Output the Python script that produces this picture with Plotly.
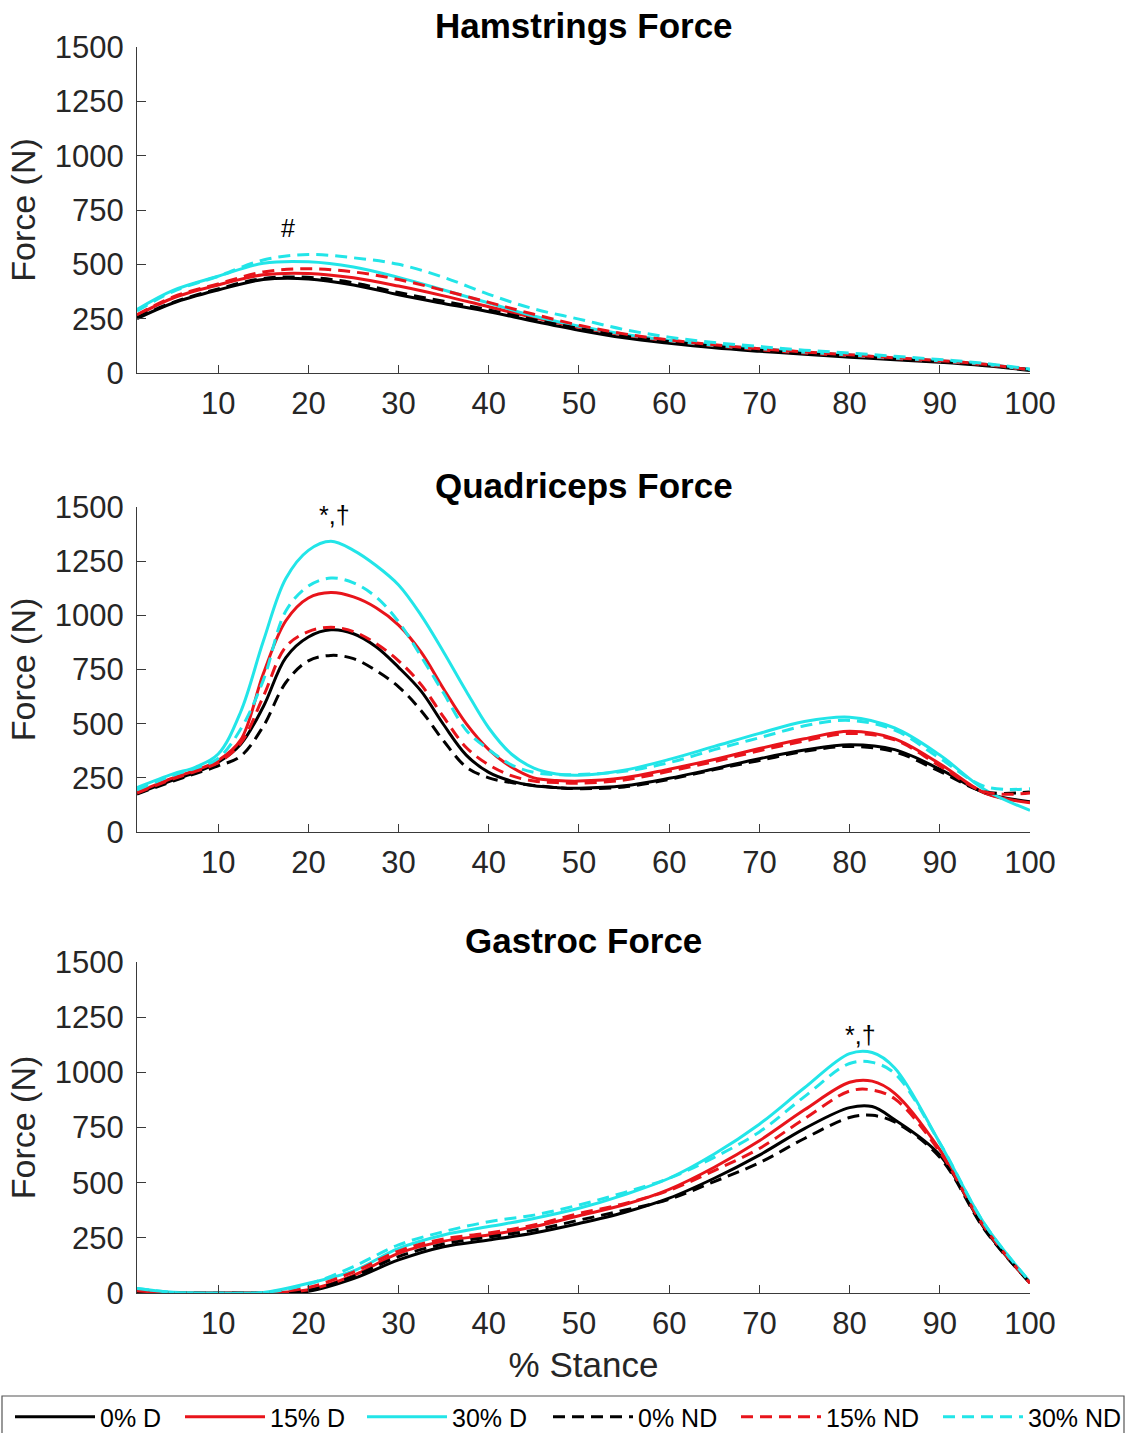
import plotly.graph_objects as go
from plotly.subplots import make_subplots

# ---------------- data ----------------
X_HAM = [1, 5, 10, 15, 20, 25, 30, 35, 40, 45, 50, 55, 60, 65, 70, 75, 80, 85, 90, 95, 100]
HAM_0D = [250, 322, 382, 430, 433, 405, 360, 320, 282, 238, 197, 162, 137, 116, 100, 86, 73, 61, 49, 33, 12]
HAM_15D = [265, 345, 405, 452, 458, 438, 400, 355, 305, 255, 210, 175, 148, 125, 107, 92, 80, 67, 54, 38, 15]
HAM_30D = [292, 380, 445, 505, 512, 488, 440, 382, 322, 262, 215, 178, 150, 128, 112, 96, 83, 69, 56, 40, 15]
HAM_0ND = [255, 325, 387, 435, 440, 415, 370, 330, 290, 245, 205, 170, 145, 123, 105, 90, 78, 65, 52, 37, 15]
HAM_15ND = [268, 350, 410, 465, 480, 465, 430, 380, 325, 270, 220, 180, 152, 130, 112, 97, 84, 70, 57, 40, 15]
HAM_30ND = [285, 375, 445, 520, 545, 530, 500, 440, 362, 295, 248, 200, 165, 140, 122, 105, 92, 77, 62, 44, 18]

X_QUAD = [1, 5, 7.5, 10, 12.5, 15, 17.5, 20, 22.5, 25, 27.5, 30, 32.5, 35, 37.5, 40, 42.5, 45, 47.5, 50,
          55, 60, 65, 70, 75, 80, 85, 90, 95, 100]
QUAD_0D = [178, 240, 275, 322, 405, 578, 805, 900, 933, 915, 855, 760, 650, 495, 355, 275, 235, 213, 205, 202,
           213, 248, 292, 338, 378, 403, 380, 290, 180, 140]
QUAD_15D = [183, 250, 285, 330, 425, 730, 975, 1080, 1105, 1085, 1035, 955, 830, 660, 500, 380, 300, 250, 238, 235,
            250, 290, 335, 385, 430, 465, 430, 315, 180, 135]
QUAD_30D = [205, 268, 300, 360, 555, 880, 1170, 1300, 1342, 1300, 1230, 1140, 1000, 830, 650, 480, 360, 295, 268, 262,
            285, 335, 395, 455, 510, 530, 480, 355, 195, 100]
QUAD_0ND = [175, 235, 270, 305, 350, 488, 690, 790, 815, 800, 745, 670, 560, 420, 300, 250, 228, 215, 205, 200,
            208, 243, 288, 330, 372, 395, 370, 280, 185, 185]
QUAD_15ND = [180, 245, 280, 320, 410, 625, 855, 925, 945, 925, 870, 790, 680, 530, 390, 310, 260, 235, 228, 225,
             240, 280, 325, 375, 420, 455, 425, 305, 185, 180]
QUAD_30ND = [195, 262, 295, 340, 475, 700, 1020, 1135, 1172, 1150, 1085, 970, 810, 640, 470, 380, 310, 275, 265, 265,
             280, 320, 380, 435, 490, 515, 470, 340, 210, 200]

X_GAS = [1, 5, 10, 15, 20, 25, 30, 35, 40, 45, 50, 55, 60, 65, 70, 75, 80, 82.5, 85, 90, 95, 100]
GAS_0D = [5, 0, 0, 0, 8, 65, 150, 210, 240, 272, 315, 365, 430, 520, 625, 745, 840, 845, 785, 625, 290, 45]
GAS_15D = [10, 0, 0, 0, 15, 80, 180, 235, 263, 300, 350, 400, 470, 570, 690, 830, 955, 960, 905, 650, 300, 45]
GAS_30D = [20, 3, 0, 2, 44, 100, 202, 263, 301, 338, 384, 445, 520, 630, 765, 930, 1085, 1090, 1020, 680, 310, 50]
GAS_0ND = [5, 0, 0, 0, 12, 75, 165, 222, 253, 285, 330, 375, 425, 505, 590, 700, 795, 805, 775, 615, 285, 45]
GAS_15ND = [10, 0, 0, 0, 25, 95, 190, 245, 272, 308, 360, 405, 465, 555, 655, 790, 915, 920, 880, 640, 295, 45]
GAS_30ND = [20, 3, 0, 2, 40, 120, 218, 278, 323, 353, 399, 455, 520, 615, 730, 890, 1040, 1045, 995, 680, 310, 50]

SERIES_NAMES = ["0% D", "15% D", "30% D", "0% ND", "15% ND", "30% ND"]
PANEL_TITLES = ["Hamstrings Force", "Quadriceps Force", "Gastroc Force"]
Y_TICKS = [0, 250, 500, 750, 1000, 1250, 1500]
X_TICKS = [10, 20, 30, 40, 50, 60, 70, 80, 90, 100]
MARKS = [("#", 17.7, 667, 1), ("*,†", 22.9, 1463, 2), ("*,†", 81.2, 1169, 3)]

# ---------------- styling ----------------
COLORS = ["#000000", "#e8141b", "#22e5e8"]
FONT = "Liberation Sans, Arial, Helvetica, sans-serif"
AX = "#3a3a3a"
LEGEND_W = [75, 87, 90, 93, 107, 100]   # per-entry legend widths (px)

panels = [
    (X_HAM, [HAM_0D, HAM_15D, HAM_30D, HAM_0ND, HAM_15ND, HAM_30ND]),
    (X_QUAD, [QUAD_0D, QUAD_15D, QUAD_30D, QUAD_0ND, QUAD_15ND, QUAD_30ND]),
    (X_GAS, [GAS_0D, GAS_15D, GAS_30D, GAS_0ND, GAS_15ND, GAS_30ND]),
]

H = 1433
W = 1126
ML, MR, MB = 137, 96, 42
GH = H - MB          # plot-area (paper) height in px
GW = W - ML - MR     # paper width in px


def fy(px):
    return (GH - px) / GH


def fx(px):
    return (px - ML) / GW


fig = make_subplots(rows=3, cols=1)

for r, (xs, ys_list) in enumerate(panels, start=1):
    for i, ys in enumerate(ys_list):
        dashed = i >= 3
        fig.add_trace(go.Scatter(
            x=xs, y=ys, mode="lines", name=SERIES_NAMES[i],
            line=dict(color=COLORS[i % 3], width=3, shape="spline", smoothing=1.0,
                      dash="12px,7px" if dashed else "solid"),
            showlegend=(r == 1), legendrank=i,
            legend="legend" if i < 3 else "legend2",
            legendwidth=LEGEND_W[i],
        ), row=r, col=1)

# plot area pixel positions (top, bottom)
areas = [(47, 373), (507, 832), (962, 1293)]
for r, (top, bot) in enumerate(areas, start=1):
    xa = "xaxis" if r == 1 else f"xaxis{r}"
    ya = "yaxis" if r == 1 else f"yaxis{r}"
    fig.layout[ya].update(
        domain=[fy(bot), fy(top)], range=[0, 1500],
        tickvals=Y_TICKS, ticks="inside", ticklen=9, tickcolor=AX,
        showline=True, linecolor=AX, linewidth=1, showgrid=False, zeroline=False,
        tickfont=dict(size=31, color="#262626", family=FONT),
        ticklabelstandoff=6,
        title=dict(text="Force (N)", font=dict(size=34, color="#262626", family=FONT), standoff=8),
    )
    fig.layout[xa].update(
        range=[1, 100], tickvals=X_TICKS, ticks="inside", ticklen=8, tickcolor=AX,
        showline=True, linecolor=AX, linewidth=1, showgrid=False, zeroline=False,
        tickfont=dict(size=31, color="#262626", family=FONT),
        ticklabelstandoff=3,
    )
    fig.add_annotation(
        text="<b>" + PANEL_TITLES[r - 1] + "</b>", xref=f"x{'' if r == 1 else r} domain",
        yref=f"y{'' if r == 1 else r} domain", x=0.5, y=1, yanchor="bottom", xanchor="center",
        showarrow=False, yshift=0, font=dict(size=35, color="#000000", family=FONT),
    )

fig.layout["xaxis3"].update(title=dict(text="% Stance", font=dict(size=35, color="#262626", family=FONT), standoff=12))

for txt, mx, my, r in MARKS:
    fig.add_annotation(text=txt, x=mx, y=my, xref=f"x{'' if r == 1 else r}", yref=f"y{'' if r == 1 else r}",
                       showarrow=False, font=dict(size=25, color="#000000", family=FONT))

# legend box
fig.add_shape(type="rect", xref="paper", yref="paper",
              x0=fx(2), x1=fx(1124), y0=fy(1445), y1=fy(1396),
              line=dict(color="#555555", width=1.2), fillcolor="rgba(0,0,0,0)", layer="above")

legend_common = dict(
    orientation="h", xanchor="left", yanchor="top",
    borderwidth=0, bgcolor="rgba(0,0,0,0)",
    font=dict(size=25, color="#000000", family=FONT), itemwidth=80,
    entrywidthmode="pixels", traceorder="normal",
)

fig.update_layout(
    width=W, height=H,
    margin=dict(l=ML, r=MR, t=0, b=MB, autoexpand=False),
    paper_bgcolor="white", plot_bgcolor="white",
    showlegend=True,
    legend=dict(x=fx(10), y=fy(1394), **legend_common),
    legend2=dict(x=fx(548), y=fy(1394), **legend_common),
)

fig.write_html("out.html")
